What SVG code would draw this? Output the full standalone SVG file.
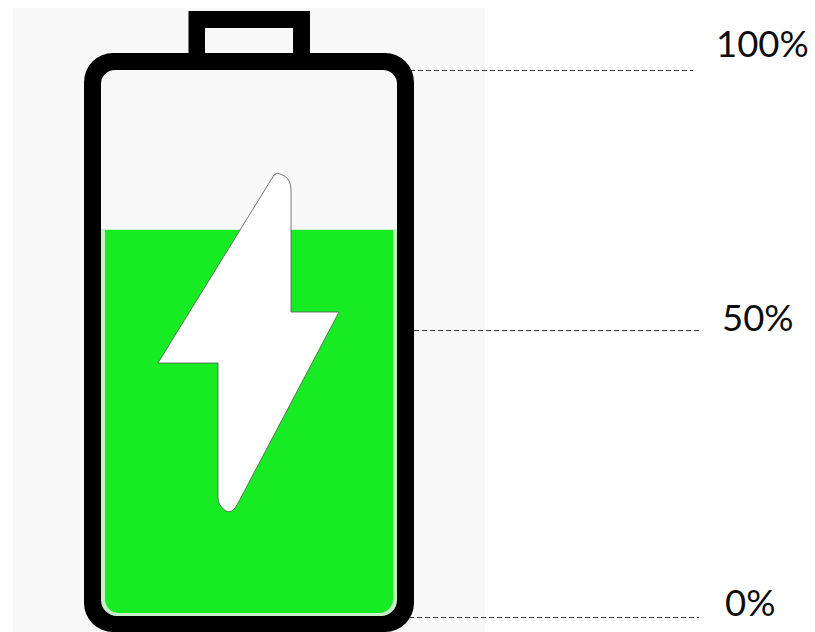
<svg xmlns="http://www.w3.org/2000/svg" width="815" height="632" viewBox="0 0 815 632">
<style>
.lbl{font-family:"Lato","Open Sans",sans-serif;font-size:36.500px;fill:#0d0d0d}
.dash{stroke:#333;stroke-width:1;stroke-dasharray:5 3;fill:none}
</style>
<rect width="815" height="632" fill="#fff"/>
<g id="battery">
<rect x="13" y="8" width="472" height="624" fill="#f8f8f8"/>
<path fill="#000" fill-rule="evenodd" d="M188.500 11H310V60H293V28H205V60H188.500Z"/>
<path d="M101 84A14 14 0 0 1 115 70H383A14 14 0 0 1 397 84V600A16 16 0 0 1 381 616H117A16 16 0 0 1 101 600Z" fill="#c8f0c8"/>
<path d="M101 84A14 14 0 0 1 115 70H383A14 14 0 0 1 397 84V229H101Z" fill="#f8f8f8"/>
<path id="charge" d="M105 230H393V599A14 14 0 0 1 379 613H119A14 14 0 0 1 105 599Z" fill="#17eb23"/>
<path fill="#000" fill-rule="evenodd" d="M113 53H385A29 29 0 0 1 414 82V603A29 29 0 0 1 385 632H113A29 29 0 0 1 84 603V82A29 29 0 0 1 113 53ZM115 70A14 14 0 0 0 101 84V600A16 16 0 0 0 117 616H381A16 16 0 0 0 397 600V84A14 14 0 0 0 383 70Z"/>
</g>
<g id="bolt">
<path d="M274 175Q277 172 280 174Q291 177 291 190V312H339L237 505Q232 514 226 511Q218 506 218 497V363H158Z" fill="#fff" stroke="#555" stroke-width="0.800"/>
</g>
<g id="connectors">
<line class="dash" x1="410" y1="70.500" x2="693" y2="70.500"/>
<line class="dash" x1="414" y1="330.500" x2="699" y2="330.500"/>
<line class="dash" x1="409" y1="617.500" x2="699" y2="617.500"/>
</g>
<g id="label-100"><text class="lbl" x="716" y="57">100%</text></g>
<g id="label-50"><text class="lbl" x="722" y="331">50%</text></g>
<g id="label-0"><text class="lbl" x="725" y="616">0%</text></g>
</svg>
